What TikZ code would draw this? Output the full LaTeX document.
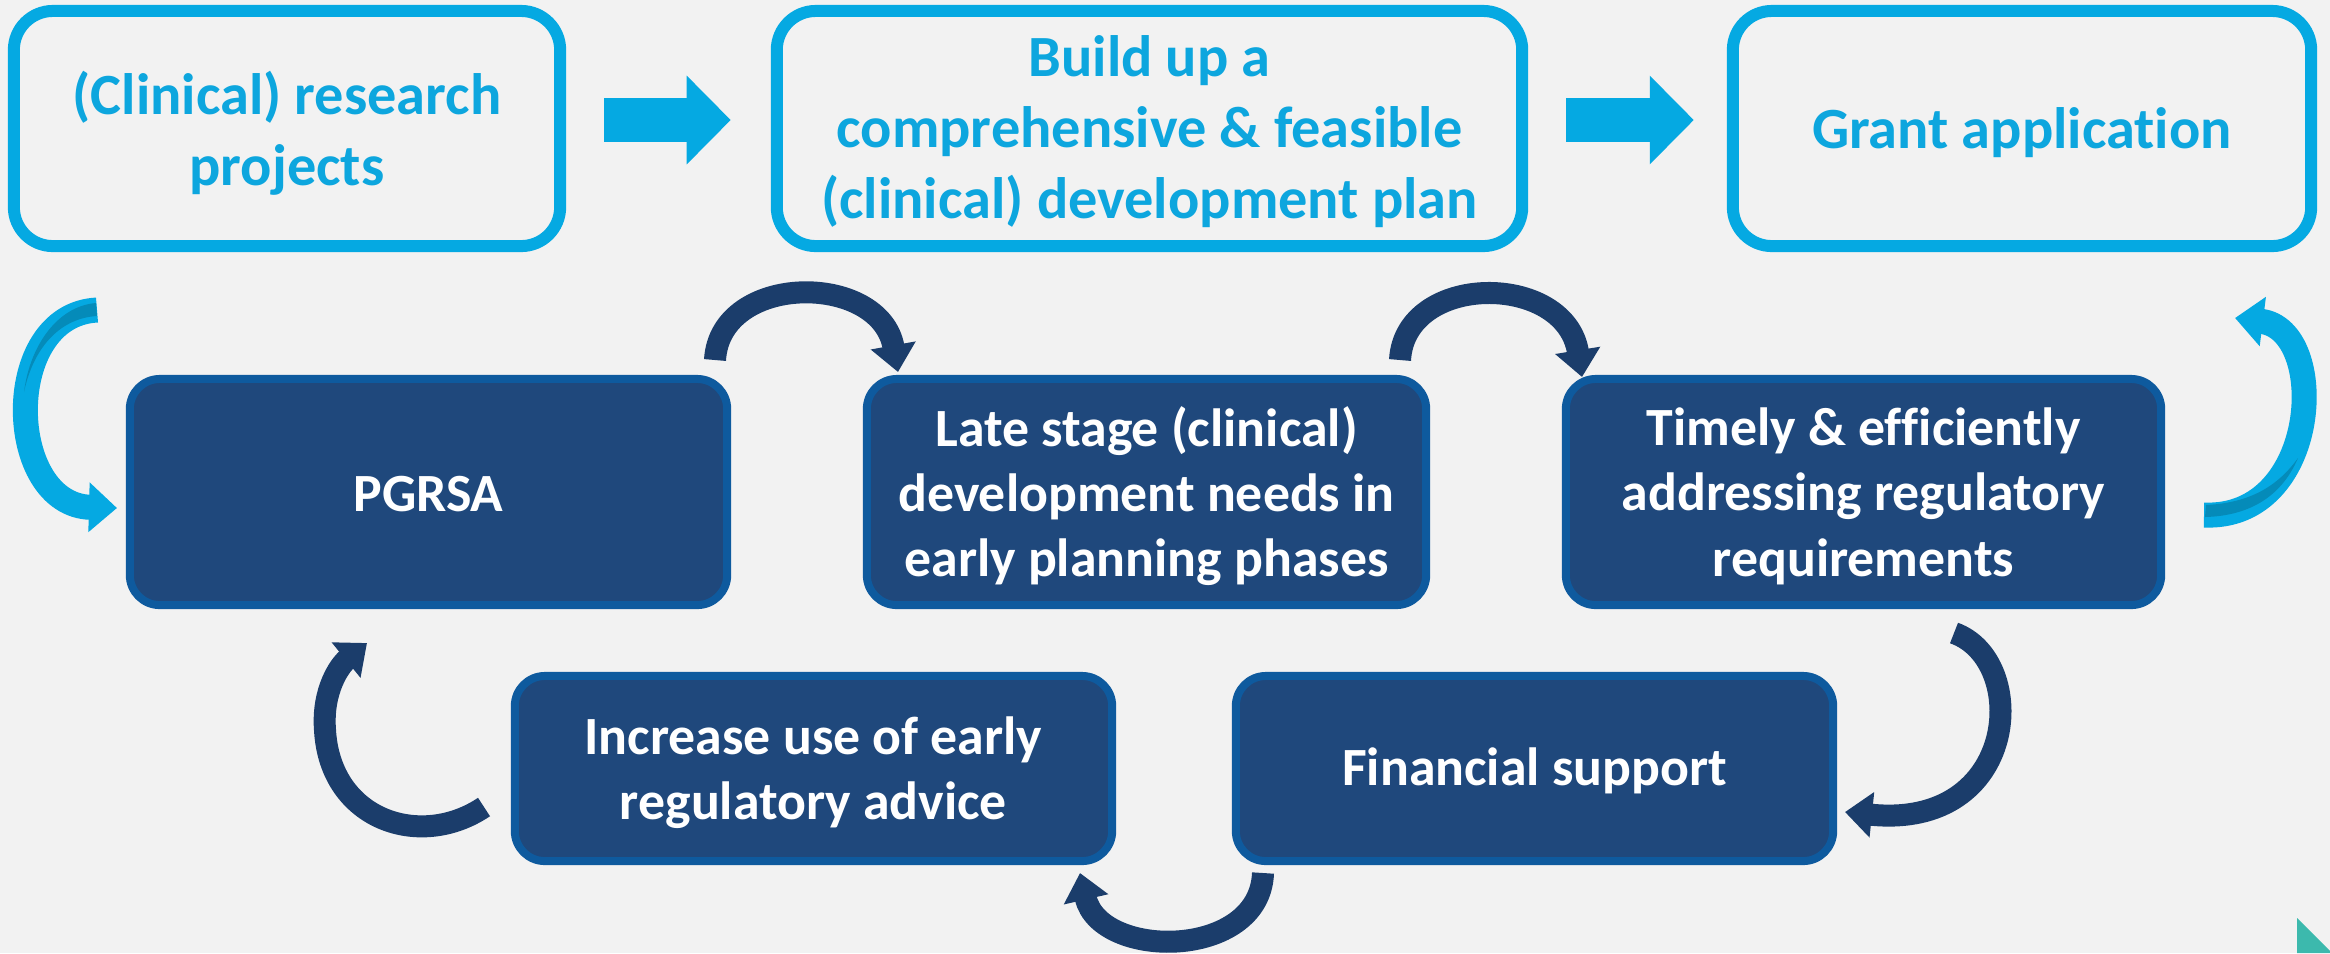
\documentclass[tikz,border=0pt]{standalone}
\usepackage{fontspec}
\setmainfont{Carlito}[Ligatures=NoCommon]
\usetikzlibrary{arrows.meta}
\definecolor{bg}{HTML}{F2F2F2}
\definecolor{cblue}{HTML}{05A9E2}
\definecolor{cshade}{HTML}{058BB9}
\definecolor{ctext}{HTML}{0DA6DE}
\definecolor{dfill}{HTML}{1F487C}
\definecolor{dborder}{HTML}{0E5A9E}
\definecolor{dnavy}{HTML}{1B3D6B}
\definecolor{tealc}{HTML}{3CB9AD}
\tikzset{
  topbox/.style={draw=cblue, line width=0.12cm, rounded corners=0.39cm, fill=bg,
    inner sep=0pt, minimum height=2.35cm},
  toptext/.style={text=ctext, font=\fontsize{16.6}{20.2}\selectfont\bfseries, align=center, inner sep=0pt},
  darkbox/.style={draw=dborder, line width=0.08cm, rounded corners=0.3cm, fill=dfill, inner sep=0pt},
  darktext/.style={text=white, font=\fontsize{15.3}{18.6}\selectfont\bfseries, align=center, inner sep=0pt},
  bigarrow/.style={draw=cblue, line width=0.44cm, -{Triangle[width=0.86cm,length=0.44cm]}},
  lcurve/.style={draw=cblue, line width=0.25cm, -{Triangle[width=0.48cm,length=0.28cm]}},
  dcurve/.style={draw=dnavy, line width=0.22cm, -{Triangle[width=0.44cm,length=0.27cm]}}
}
\begin{document}
\begin{tikzpicture}[x=0.01cm,y=-0.01cm]
\fill[bg] (0,0) rectangle (2330,953);
\useasboundingbox (0,0) rectangle (2330,953);

% top boxes
\node[topbox, minimum width=5.46cm] (b1) at (287,128.5) {};
\node[topbox, minimum width=7.45cm] (b2) at (1149.5,128.5) {};
\node[topbox, minimum width=5.78cm] (b3) at (2022,128.5) {};
\node[toptext] (b1t) at ([yshift=-0.045cm]b1.center) {(Clinical) research\\projects};
\node[toptext] (b2t) at ([yshift=-0.035cm]b2.center) {Build up a\\comprehensive \& feasible\\(clinical) development plan};
\node[toptext] (b3t) at ([yshift=-0.045cm]b3.center) {Grant application};

% dark boxes
\node[darkbox, minimum width=5.97cm, minimum height=2.26cm] (pg) at (428.5,492) {};
\node[darkbox, minimum width=5.59cm, minimum height=2.26cm] (ls) at (1146.5,492) {};
\node[darkbox, minimum width=5.95cm, minimum height=2.26cm] (tm) at (1863.5,492) {};
\node[darkbox, minimum width=5.97cm, minimum height=1.85cm] (iu) at (813.5,768.5) {};
\node[darkbox, minimum width=5.97cm, minimum height=1.85cm] (fs) at (1534.5,768.5) {};
\node[darktext] (pgt) at ([yshift=-0.02cm]pg.center) {PGRSA};
\node[darktext] (lst) at ([yshift=-0.04cm]ls.center) {Late stage (clinical)\\development needs in\\early planning phases};
\node[darktext] (tmt) at ([yshift=-0.04cm]tm.center) {Timely \& efficiently\\addressing regulatory\\requirements};
\node[darktext] (iut) at ([yshift=-0.04cm]iu.center) {Increase use of early\\regulatory advice};
\node[darktext] (fst) at ([yshift=-0.02cm]fs.center) {Financial support};

% straight block arrows
\draw[bigarrow] ([xshift=0.38cm,yshift=0.085cm]b1.east) -- ([xshift=-0.40cm,yshift=0.085cm]b2.west);
\draw[bigarrow] ([xshift=0.38cm,yshift=0.085cm]b2.east) -- ([xshift=-0.33cm,yshift=0.085cm]b3.west);

% curved arrows
\coordinate (a1s) at (97,310);   \coordinate (a1e) at (117,508);
\coordinate (a4s) at (2204,515); \coordinate (a4e) at (2235,318);
\coordinate (a2s) at (715,360);  \coordinate (a2e) at (898,372);
\coordinate (a3s) at (1400,360); \coordinate (a3e) at (1582,377);
\coordinate (a5s) at (1954,633); \coordinate (a5e) at (1845,812);
\coordinate (a6s) at (1263,873); \coordinate (a6e) at (1080,873);
\coordinate (a7s) at (484,807);  \coordinate (a7e) at (367,643);

\draw[lcurve] (a1s) .. controls (0,315) and (5,505) .. (a1e);
\draw[lcurve] (a4s) .. controls (2320,520) and (2330,330) .. (a4e);
% darker inner shading of the light arrows
\fill[cshade] (96,303) -- (97,316) .. controls (62,318) and (34,345) .. (24,392)
  .. controls (30,345) and (58,306) .. cycle;
\fill[cshade] (2206,505) -- (2205,517) .. controls (2245,516) and (2280,500) .. (2298,458)
  .. controls (2275,490) and (2245,503) .. cycle;
\draw[dcurve] (a2s) .. controls (720,272) and (880,272) .. (a2e);
\draw[dcurve] (a3s) .. controls (1405,272) and (1565,272) .. (a3e);
\draw[dcurve] (a5s) .. controls (2030,660) and (2020,830) .. (a5e);
\draw[dcurve] (a6s) .. controls (1260,960) and (1100,960) .. (a6e);
\draw[dcurve] (a7s) .. controls (420,850) and (330,820) .. (325,730) .. controls (322,690) and (340,665) .. (a7e);

% corner triangle
\fill[tealc] (2297,918) -- (2297,953) -- (2332,953) -- cycle;
\end{tikzpicture}
\end{document}
